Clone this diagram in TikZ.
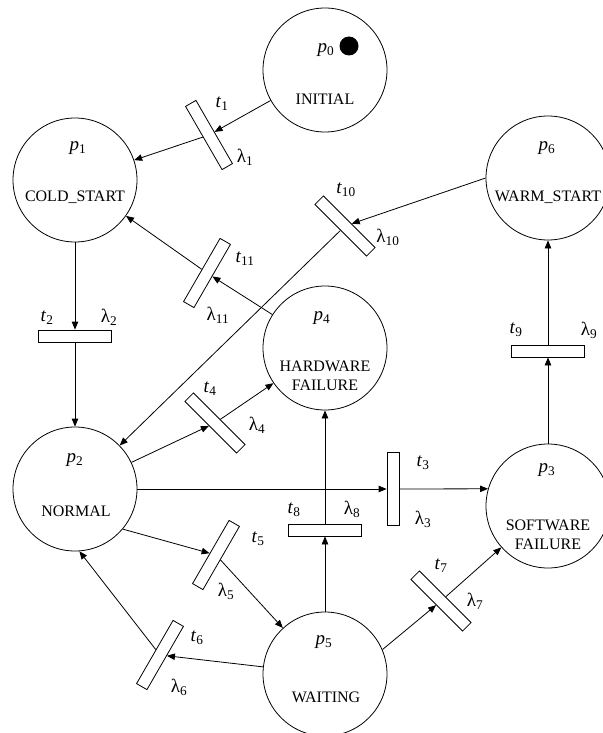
\documentclass[tikz,border=0pt]{standalone}
\usepackage{fontspec}
\setmainfont{Liberation Serif}
\usetikzlibrary{arrows.meta,positioning}
\tikzset{
  place/.style={draw,circle,line width=0.8pt,minimum size=124pt,inner sep=0pt},
  trans/.style={draw,rectangle,fill=white,line width=0.8pt,
                minimum width=12pt,minimum height=73pt,inner sep=0pt},
  token/.style={circle,fill=black,minimum size=19pt,inner sep=0pt},
  arc/.style={-{Triangle[length=8pt,width=6.5pt]},line width=0.8pt},
  tag/.style={font=\fontsize{19}{22}\selectfont,inner sep=0pt},
  pname/.style={font=\fontsize{16}{19.5}\selectfont,inner sep=0pt,align=center}
}
\newcommand{\plc}[1]{\textit{p}\textsubscript{#1}}
\newcommand{\trn}[1]{\textit{t}\textsubscript{#1}}
\newcommand{\rate}[1]{λ\textsubscript{#1}}

\begin{document}
\begin{tikzpicture}[x=1pt,y=-1pt]
  \useasboundingbox (0,0) rectangle (602,733);

  % places
  \node[place] (p0) at (325,70) {};
  \node[place] (p1) at (75,180) {};
  \node[place] (p2) at (75,489) {};
  \node[place] (p3) at (548,506) {};
  \node[place] (p4) at (325,348) {};
  \node[place] (p5) at (325,674) {};
  \node[place] (p6) at (548,178) {};
  \node[token] (dot) at (349,46) {};

  % place texts
  \node[tag] (p0l) at (326,50) {\plc{0}};
  \node[pname] (p0n) at (325,99) {INITIAL};
  \node[tag] (p1l) at (78,148) {\plc{1}};
  \node[pname] (p1n) at (75,197) {COLD\_START};
  \node[tag] (p2l) at (75,460) {\plc{2}};
  \node[pname] (p2n) at (76,511) {NORMAL};
  \node[tag] (p3l) at (547,470) {\plc{3}};
  \node[pname] (p3n) at (548,535) {SOFTWARE\\FAILURE};
  \node[tag] (p4l) at (322,318) {\plc{4}};
  \node[pname] (p4n) at (325,376) {HARDWARE\\FAILURE};
  \node[tag] (p5l) at (324,642) {\plc{5}};
  \node[pname] (p5n) at (326,697) {WAITING};
  \node[tag] (p6l) at (547,148) {\plc{6}};
  \node[pname] (p6n) at (548,197) {WARM\_START};

  % transitions
  \node[trans,rotate=30] (t1) at (209,135) {};
  \node[trans,rotate=90] (t2) at (75,336) {};
  \node[trans] (t3) at (393,489) {};
  \node[trans,rotate=45] (t4) at (215,423) {};
  \node[trans,rotate=-30] (t5) at (216,555) {};
  \node[trans,rotate=-30] (t6) at (160,655) {};
  \node[trans,rotate=45] (t7) at (441,601) {};
  \node[trans,rotate=90] (t8) at (325,530) {};
  \node[trans,rotate=90] (t9) at (548,351) {};
  \node[trans,rotate=45] (t10) at (345,226) {};
  \node[trans,rotate=-30] (t11) at (207,273) {};

  % transition labels
  \node[tag] (t1l) at (222,104) {\trn{1}};
  \node[tag] (r1l) at (245,157) {\rate{1}};
  \node[tag] (t2l) at (47,318) {\trn{2}};
  \node[tag] (r2l) at (109,317) {\rate{2}};
  \node[tag] (t3l) at (423,463) {\trn{3}};
  \node[tag] (r3l) at (423,519) {\rate{3}};
  \node[tag] (t4l) at (210,389) {\trn{4}};
  \node[tag] (r4l) at (257,425) {\rate{4}};
  \node[tag] (t5l) at (258,539) {\trn{5}};
  \node[tag] (r5l) at (226,591) {\rate{5}};
  \node[tag] (t6l) at (197,638) {\trn{6}};
  \node[tag] (r6l) at (179,687) {\rate{6}};
  \node[tag] (t7l) at (441,566) {\trn{7}};
  \node[tag] (r7l) at (475,601) {\rate{7}};
  \node[tag] (t8l) at (294,510) {\trn{8}};
  \node[tag] (r8l) at (352,509) {\rate{8}};
  \node[tag] (t9l) at (516,330) {\trn{9}};
  \node[tag] (r9l) at (589,330) {\rate{9}};
  \node[tag] (t10l) at (346,190) {\trn{10}};
  \node[tag] (r10l) at (388,237) {\rate{10}};
  \node[tag] (t11l) at (245,259) {\trn{11}};
  \node[tag] (r11l) at (218,315) {\rate{11}};

  % arcs
  \draw[arc] (p0) -- (t1);
  \draw[arc] (t1) -- (p1);
  \draw[arc] (p1) -- (t2);
  \draw[arc] (t2) -- (p2);
  \draw[arc] (p2) -- (t3);
  \draw[arc] (t3) -- (p3.164);
  \draw[arc] (p2) -- (t4);
  \draw[arc] (t4) -- (p4);
  \draw[arc] (p2.-40) -- (t5);
  \draw[arc] (t5) -- (p5);
  \draw[arc] (p5) -- (t6);
  \draw[arc] (t6) -- (p2.-86);
  \draw[arc] (p5.23) -- (t7);
  \draw[arc] (t7) -- (p3);
  \draw[arc] (p5) -- (t8);
  \draw[arc] (t8) -- (p4);
  \draw[arc] (p3) -- (t9);
  \draw[arc] (t9) -- (p6);
  \draw[arc] (p6.west) -- (t10);
  \draw[arc] (t10) -- (p2);
  \draw[arc] (p4) -- (t11);
  \draw[arc] (t11) -- (p1);
\end{tikzpicture}
\end{document}
